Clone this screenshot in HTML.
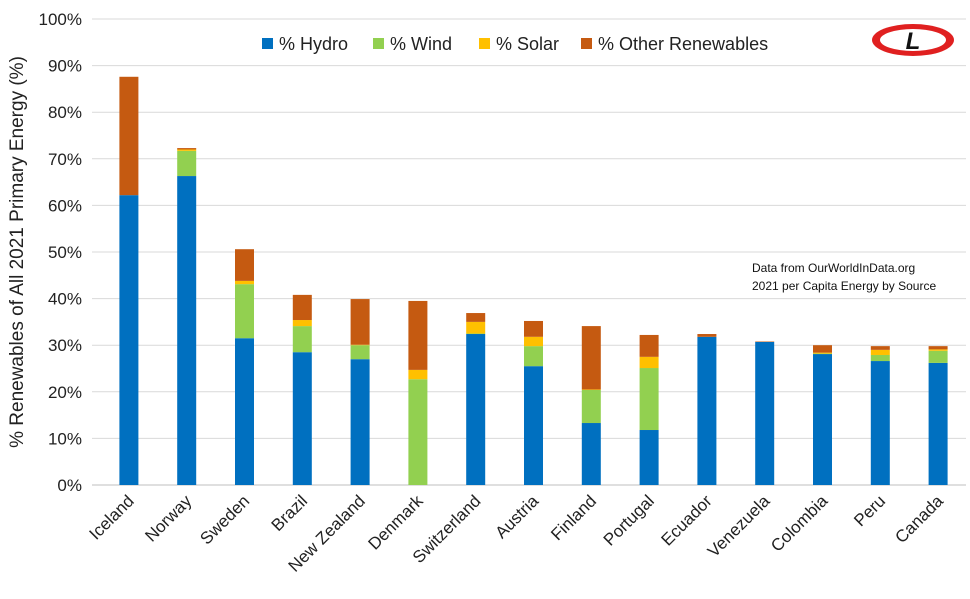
<!DOCTYPE html>
<html><head><meta charset="utf-8"><style>
body{margin:0;background:#fff;font-family:"Liberation Sans",Arial,sans-serif;}
svg text{font-family:"Liberation Sans",Arial,sans-serif;}
</style></head><body>
<svg id="chart" width="970" height="594" viewBox="0 0 970 594">
<rect width="970" height="594" fill="#fff"/>
<g id="grid"></g><g id="bars"></g><g id="xlabels"></g><g id="ylabels"></g>
<text transform="translate(23,252) rotate(-90)" text-anchor="middle" font-size="19" fill="#222">% Renewables of All 2021 Primary Energy (%)</text>
<g font-size="18" fill="#222">
<rect x="262" y="38" width="11" height="11" fill="#0070C0"/><text x="279" y="50">% Hydro</text>
<rect x="373" y="38" width="11" height="11" fill="#92D050"/><text x="390" y="50">% Wind</text>
<rect x="479" y="38" width="11" height="11" fill="#FFC000"/><text x="496" y="50">% Solar</text>
<rect x="581" y="38" width="11" height="11" fill="#C55A11"/><text x="598" y="50">% Other Renewables</text>
</g>
<g font-size="12" fill="#111">
<text x="752" y="272">Data from OurWorldInData.org</text>
<text x="752" y="290">2021 per Capita Energy by Source</text>
</g>
<g>
<ellipse cx="913" cy="40" rx="41" ry="16" fill="#e02020"/>
<ellipse cx="913" cy="40" rx="33" ry="11" fill="#fff"/>
<text x="913" y="49" text-anchor="middle" font-size="24" font-weight="bold" font-style="italic" fill="#111">L</text>
</g>
</svg>
<script>
const categories=["Iceland","Norway","Sweden","Brazil","New Zealand","Denmark","Switzerland","Austria","Finland","Portugal","Ecuador","Venezuela","Colombia","Peru","Canada"];
const hydro=[62.2,66.3,31.5,28.5,27.0,0,32.4,25.5,13.3,11.8,31.8,30.7,28.1,26.6,26.2];
const wind=[0,5.4,11.6,5.6,3.0,22.7,0.1,4.3,7.1,13.3,0,0,0.1,1.3,2.6];
const solar=[0,0.3,0.7,1.3,0.1,2.0,2.5,2.0,0.1,2.4,0,0,0.2,1.1,0.3];
const other=[25.4,0.3,6.8,5.4,9.8,14.8,1.9,3.4,13.6,4.7,0.6,0.1,1.6,0.8,0.7];
const yTicks=[0,10,20,30,40,50,60,70,80,90,100];
const NS="http://www.w3.org/2000/svg";
const y0=485,y1=19,gL=92,gR=966,xL=100,xR=967,step=(xR-xL)/categories.length,bw=19;
const yS=v=>y0-(v/100)*(y0-y1);
const xS=i=>xL+step*(i+0.5);
const grid=document.getElementById('grid'),bars=document.getElementById('bars'),xl=document.getElementById('xlabels'),yl=document.getElementById('ylabels');
yTicks.forEach(t=>{
 const l=document.createElementNS(NS,'line');
 
 
 l.setAttribute('x1',gL);l.setAttribute('x2',gR);l.setAttribute('y1',yS(t));l.setAttribute('y2',yS(t));
 l.setAttribute('stroke',t===0?'#bfbfbf':'#d9d9d9');l.setAttribute('stroke-width','1');
 grid.appendChild(l);
 const tx=document.createElementNS(NS,'text');
 
 
 tx.setAttribute('x',82);tx.setAttribute('y',yS(t)+6);tx.setAttribute('text-anchor','end');tx.setAttribute('font-size','17');tx.setAttribute('fill','#222');
 tx.textContent=t+'%';yl.appendChild(tx);
});
const series=[[hydro,'#0070C0','hydro'],[wind,'#92D050','wind'],[solar,'#FFC000','solar'],[other,'#C55A11','other']];
categories.forEach((c,i)=>{
 let base=0;
 series.forEach(([arr,col,nm])=>{
  const v=arr[i];if(v<=0)return;
  const r=document.createElementNS(NS,'rect');
  
  
  r.setAttribute('x',xS(i)-bw/2);r.setAttribute('width',bw);
  r.setAttribute('y',yS(base+v));r.setAttribute('height',yS(base)-yS(base+v));
  r.setAttribute('fill',col);bars.appendChild(r);base+=v;
 });
 const t=document.createElementNS(NS,'text');
 
 
 const x=xS(i)+6,y=502;
 t.setAttribute('x',x);t.setAttribute('y',y);t.setAttribute('text-anchor','end');
 t.setAttribute('transform','rotate(-45 '+x+' '+y+')');t.setAttribute('font-size','17');t.setAttribute('fill','#222');
 t.textContent=c;xl.appendChild(t);
});
</script>
</body></html>
